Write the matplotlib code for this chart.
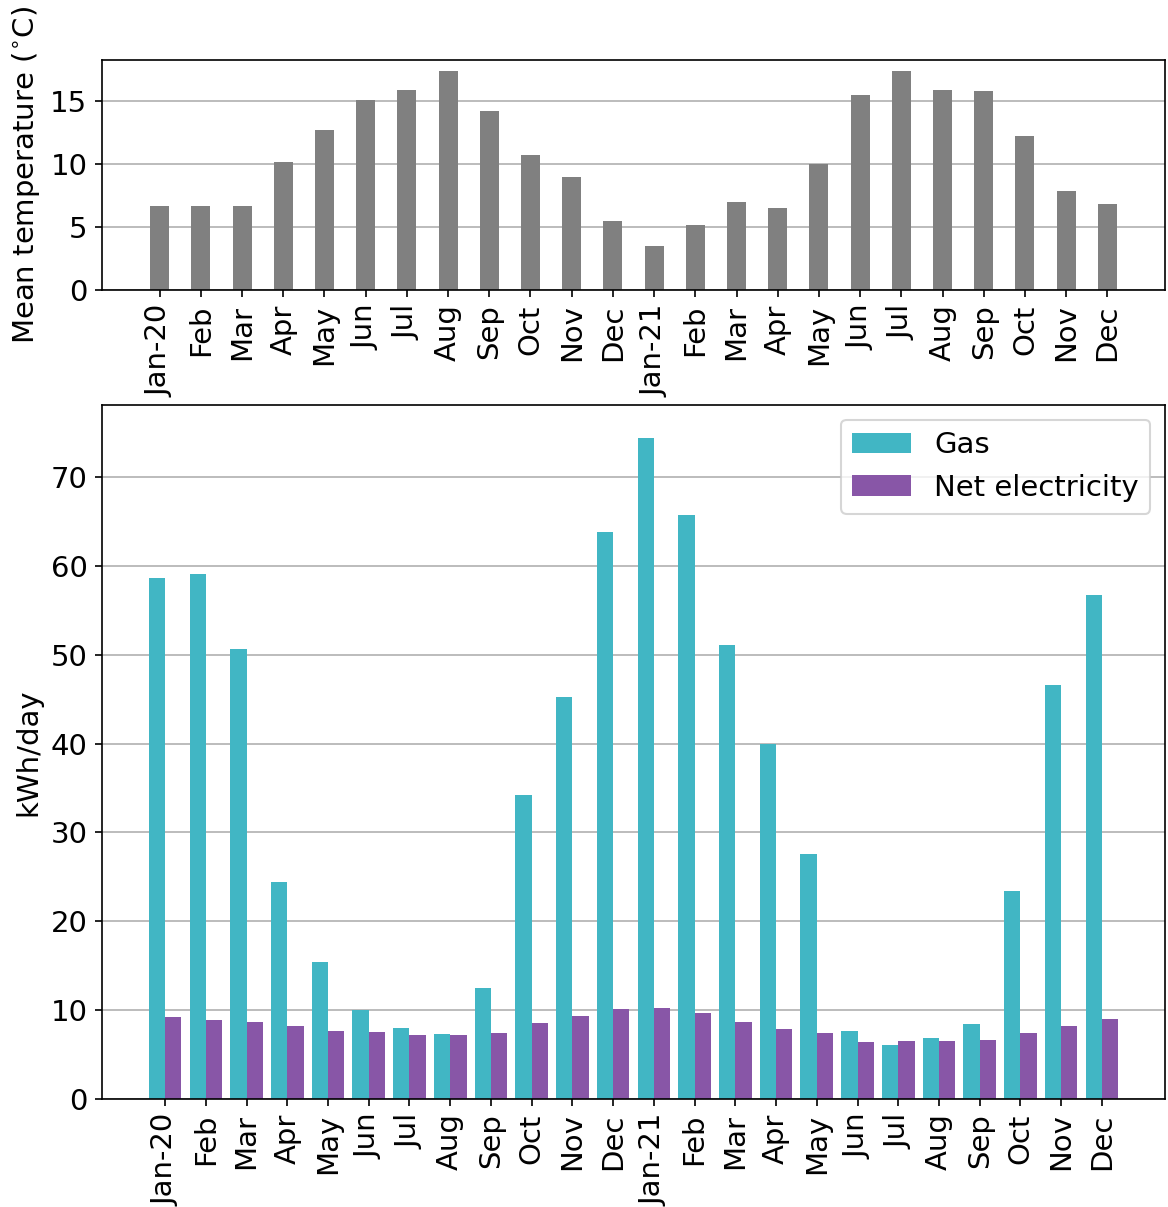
import matplotlib
matplotlib.use('Agg')
import matplotlib.pyplot as plt
import numpy as np

plt.rcParams['font.size'] = 14

# month labels, Jan 2020 - Dec 2021
months = ['Jan-20', 'Feb', 'Mar', 'Apr', 'May', 'Jun', 'Jul', 'Aug', 'Sep', 'Oct', 'Nov', 'Dec',
          'Jan-21', 'Feb', 'Mar', 'Apr', 'May', 'Jun', 'Jul', 'Aug', 'Sep', 'Oct', 'Nov', 'Dec']

temp = [6.7, 6.7, 6.7, 10.2, 12.7, 15.1, 15.9, 17.4, 14.2, 10.7, 9.0, 5.5,
        3.5, 5.2, 7.0, 6.5, 10.0, 15.5, 17.4, 15.9, 15.8, 12.2, 7.9, 6.8]

gas = [58.6, 59.1, 50.7, 24.4, 15.4, 10.0, 8.0, 7.3, 12.5, 34.2, 45.3, 63.8,
       74.4, 65.7, 51.1, 40.0, 27.6, 7.6, 6.1, 6.9, 8.4, 23.4, 46.6, 56.7]

elec = [9.2, 8.9, 8.7, 8.2, 7.6, 7.5, 7.2, 7.2, 7.4, 8.5, 9.3, 10.1,
        10.2, 9.7, 8.7, 7.9, 7.4, 6.4, 6.5, 6.5, 6.6, 7.4, 8.2, 9.0]

temp_ticks = [0, 5, 10, 15]

GAS_COL = '#41b6c4'
ELEC_COL = '#8856a7'

x = np.arange(len(months))

fig = plt.figure(figsize=(1168 / 150, 1207 / 150), dpi=150)

# top: temperature
ax1 = fig.add_axes([102 / 1168, 1 - 290 / 1207, 1063 / 1168, 230 / 1207])
ax1.bar(x, temp, width=0.46, color='grey', zorder=2)
ax1.grid(axis='y', color='#b0b0b0', zorder=0)
ax1.set_axisbelow(True)
ax1.set_yticks(temp_ticks)
ax1.set_xticks(x)
ax1.set_xticklabels(months, rotation=90)
ax1.set_xlim(-1.4, 24.4)
ax1.set_ylabel(r'Mean temperature ($^{\circ}$C)')

# bottom: gas and electricity
ax2 = fig.add_axes([102 / 1168, 1 - 1099 / 1207, 1063 / 1168, 694 / 1207])
w = 0.4
ax2.bar(x - w / 2, gas, width=w, color=GAS_COL, label='Gas', zorder=2)
ax2.bar(x + w / 2, elec, width=w, color=ELEC_COL, label='Net electricity', zorder=2)
ax2.grid(axis='y', color='#b0b0b0', zorder=0)
ax2.set_axisbelow(True)
ax2.set_xticks(x)
ax2.set_xticklabels(months, rotation=90)
ax2.set_xlim(-1.55, 24.55)
ax2.set_ylabel('kWh/day')
ax2.legend(loc='upper right')

fig.savefig('out.png', dpi=150)
